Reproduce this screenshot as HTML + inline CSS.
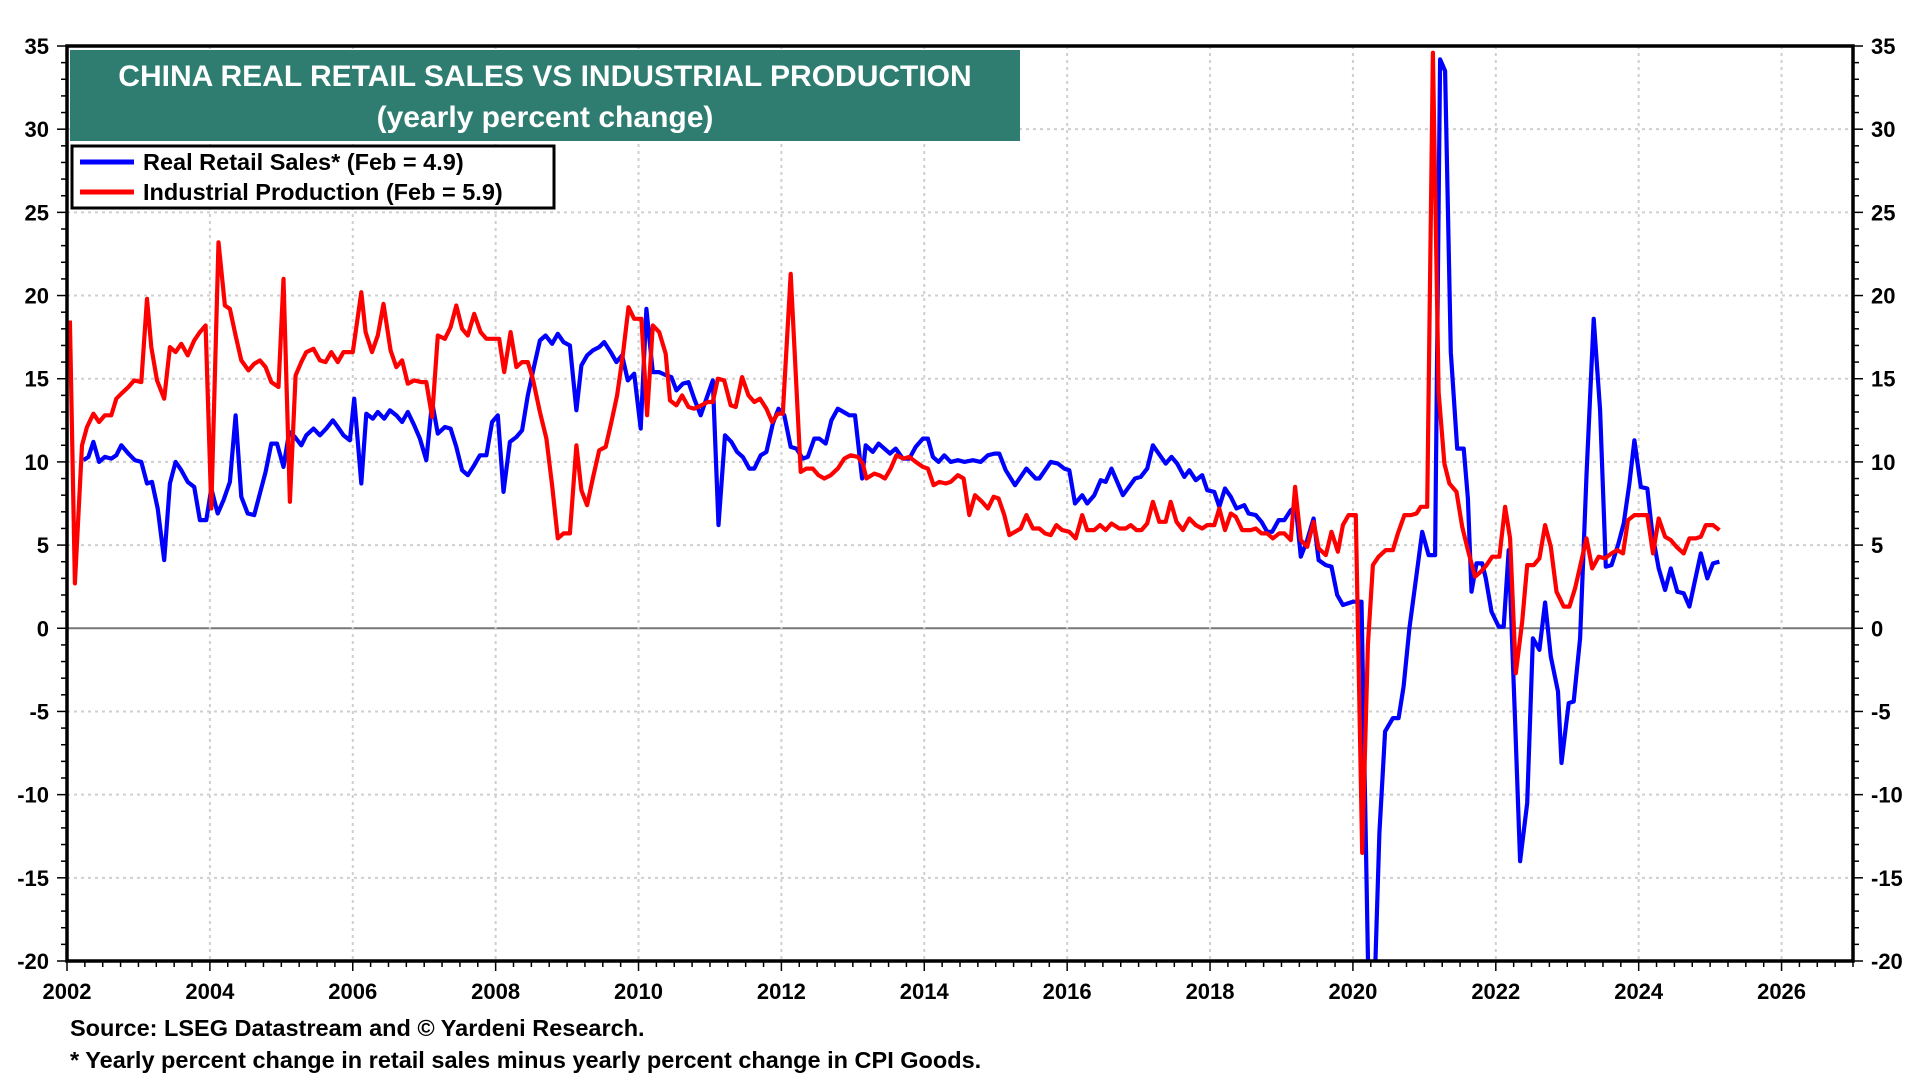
<!DOCTYPE html>
<html><head><meta charset="utf-8"><style>
html,body{margin:0;padding:0;background:#fff;}
svg{display:block;font-family:"Liberation Sans",Arial,sans-serif;font-weight:bold;}
</style></head><body>
<svg id="chart" width="1920" height="1080" viewBox="0 0 1920 1080" xmlns="http://www.w3.org/2000/svg">
<defs><clipPath id="plotclip"><rect x="67" y="46" width="1786" height="915"/></clipPath></defs>
<g id="grid"></g>
<g id="series" clip-path="url(#plotclip)"></g>
<g id="axes"></g>
<g>
<rect x="70" y="50" width="950" height="91" fill="#2e7d70"/>
<text x="545" y="86" text-anchor="middle" font-size="30" fill="#fff">CHINA REAL RETAIL SALES VS INDUSTRIAL PRODUCTION</text>
<text x="545" y="127" text-anchor="middle" font-size="30" fill="#fff">(yearly percent change)</text>
</g>
<g>
<rect x="72" y="146" width="482" height="62" fill="#fff" stroke="#000" stroke-width="3"/>
<line x1="80" y1="162" x2="134" y2="162" stroke="#0000ff" stroke-width="5"/>
<text x="143" y="170" font-size="23.5" fill="#000">Real Retail Sales* (Feb = 4.9)</text>
<line x1="80" y1="192" x2="134" y2="192" stroke="#ff0000" stroke-width="5"/>
<text x="143" y="200" font-size="23.5" fill="#000">Industrial Production (Feb = 5.9)</text>
</g>
<text x="70" y="1036" font-size="23.5" fill="#000">Source: LSEG Datastream and © Yardeni Research.</text>
<text x="70" y="1068" font-size="23.5" fill="#000">* Yearly percent change in retail sales minus yearly percent change in CPI Goods.</text>
</svg>
<script>
const yTicks = [35,30,25,20,15,10,5,0,-5,-10,-15,-20];
const xTicks = [2002,2004,2006,2008,2010,2012,2014,2016,2018,2020,2022,2024,2026];
const retailDates = [2002.23,2002.30,2002.37,2002.45,2002.53,2002.62,2002.69,2002.76,2002.86,2002.95,2003.04,2003.12,2003.19,2003.27,2003.36,2003.44,2003.52,2003.60,2003.69,2003.78,2003.86,2003.95,2004.02,2004.11,2004.19,2004.28,2004.36,2004.44,2004.53,2004.62,2004.70,2004.78,2004.86,2004.94,2005.03,2005.11,2005.19,2005.28,2005.35,2005.45,2005.54,2005.63,2005.72,2005.79,2005.87,2005.96,2006.02,2006.12,2006.19,2006.28,2006.35,2006.44,2006.52,2006.61,2006.69,2006.77,2006.86,2006.94,2007.03,2007.11,2007.19,2007.29,2007.37,2007.45,2007.53,2007.61,2007.70,2007.78,2007.87,2007.95,2008.03,2008.11,2008.20,2008.29,2008.37,2008.45,2008.52,2008.62,2008.70,2008.79,2008.87,2008.95,2009.04,2009.13,2009.20,2009.28,2009.36,2009.45,2009.52,2009.61,2009.69,2009.77,2009.85,2009.94,2010.03,2010.11,2010.20,2010.29,2010.39,2010.46,2010.53,2010.62,2010.70,2010.78,2010.87,2010.95,2011.04,2011.12,2011.21,2011.30,2011.38,2011.46,2011.55,2011.62,2011.71,2011.79,2011.88,2011.96,2012.04,2012.13,2012.21,2012.30,2012.37,2012.46,2012.53,2012.62,2012.70,2012.79,2012.87,2012.95,2013.03,2013.13,2013.18,2013.28,2013.36,2013.44,2013.52,2013.60,2013.70,2013.79,2013.88,2013.98,2014.05,2014.12,2014.20,2014.28,2014.37,2014.47,2014.56,2014.68,2014.79,2014.89,2014.98,2015.05,2015.14,2015.27,2015.43,2015.56,2015.61,2015.77,2015.87,2015.96,2016.03,2016.11,2016.21,2016.28,2016.38,2016.47,2016.54,2016.62,2016.78,2016.95,2017.03,2017.12,2017.20,2017.38,2017.46,2017.54,2017.64,2017.71,2017.80,2017.89,2017.96,2018.06,2018.13,2018.21,2018.29,2018.37,2018.48,2018.54,2018.64,2018.72,2018.80,2018.87,2018.96,2019.04,2019.13,2019.20,2019.27,2019.36,2019.45,2019.52,2019.62,2019.70,2019.78,2019.86,2020.00,2020.12,2020.22,2020.30,2020.37,2020.45,2020.56,2020.64,2020.71,2020.79,2020.89,2020.97,2021.06,2021.15,2021.22,2021.29,2021.37,2021.46,2021.55,2021.61,2021.66,2021.73,2021.81,2021.86,2021.94,2022.04,2022.11,2022.18,2022.27,2022.34,2022.44,2022.52,2022.61,2022.69,2022.77,2022.87,2022.92,2023.02,2023.09,2023.18,2023.27,2023.37,2023.46,2023.54,2023.62,2023.71,2023.79,2023.87,2023.94,2024.03,2024.12,2024.19,2024.28,2024.37,2024.45,2024.54,2024.63,2024.71,2024.79,2024.87,2024.96,2025.04,2025.13];
const retailValues = [10.1,10.3,11.2,10.0,10.3,10.2,10.4,11.0,10.5,10.1,10.0,8.7,8.8,7.2,4.1,8.7,10.0,9.5,8.8,8.5,6.5,6.5,8.4,6.9,7.7,8.8,12.8,7.9,6.9,6.8,8.1,9.4,11.1,11.1,9.7,11.8,11.5,11.0,11.6,12.0,11.6,12.0,12.5,12.1,11.6,11.3,13.8,8.7,12.9,12.6,13.0,12.6,13.1,12.8,12.4,13.0,12.2,11.4,10.1,13.6,11.7,12.1,12.0,10.9,9.5,9.2,9.8,10.4,10.4,12.4,12.8,8.2,11.2,11.5,11.9,14.0,15.4,17.3,17.6,17.1,17.7,17.2,17.0,13.1,15.8,16.4,16.7,16.9,17.2,16.6,16.0,16.4,14.9,15.3,12.0,19.2,15.4,15.4,15.2,15.1,14.3,14.7,14.8,13.8,12.8,13.8,14.9,6.2,11.6,11.2,10.6,10.3,9.6,9.6,10.4,10.6,12.3,13.2,12.8,10.9,10.8,10.2,10.3,11.4,11.4,11.1,12.5,13.2,13.0,12.8,12.8,9.0,11.0,10.6,11.1,10.8,10.5,10.8,10.2,10.2,10.9,11.4,11.4,10.3,10.0,10.4,10.0,10.1,10.0,10.1,10.0,10.4,10.5,10.5,9.5,8.6,9.6,9.0,9.0,10.0,9.9,9.6,9.5,7.5,8.0,7.5,8.0,8.9,8.8,9.6,8.0,9.0,9.1,9.6,11.0,9.9,10.3,9.9,9.1,9.5,8.9,9.2,8.3,8.2,7.3,8.4,7.9,7.2,7.4,6.9,6.8,6.4,5.8,5.8,6.5,6.5,7.1,7.3,4.3,5.3,6.6,4.1,3.8,3.7,2.0,1.4,1.6,1.6,-22,-22,-12.3,-6.2,-5.4,-5.4,-3.5,0.0,3.2,5.8,4.4,4.4,34.2,33.5,16.6,10.8,10.8,7.8,2.2,3.9,3.9,3.0,1.0,0.1,0.1,4.7,-5.6,-14.0,-10.5,-0.6,-1.3,1.55,-1.7,-3.8,-8.1,-4.5,-4.4,-0.6,9.2,18.6,13.1,3.7,3.8,5.0,6.3,8.7,11.3,8.5,8.4,5.7,3.6,2.3,3.6,2.2,2.1,1.3,2.9,4.5,3.0,3.9,4.0,4.9];
const ipDates = [2002.04,2002.11,2002.21,2002.28,2002.37,2002.45,2002.53,2002.62,2002.69,2002.76,2002.86,2002.94,2003.04,2003.12,2003.18,2003.26,2003.36,2003.44,2003.52,2003.60,2003.69,2003.78,2003.86,2003.94,2004.02,2004.12,2004.21,2004.28,2004.36,2004.44,2004.54,2004.62,2004.70,2004.78,2004.86,2004.96,2005.03,2005.12,2005.20,2005.28,2005.35,2005.45,2005.54,2005.62,2005.70,2005.79,2005.87,2006.00,2006.12,2006.18,2006.27,2006.35,2006.43,2006.53,2006.61,2006.69,2006.77,2006.86,2006.96,2007.03,2007.11,2007.19,2007.29,2007.37,2007.45,2007.53,2007.61,2007.70,2007.79,2007.87,2007.96,2008.05,2008.12,2008.21,2008.29,2008.37,2008.45,2008.52,2008.62,2008.71,2008.79,2008.87,2008.95,2009.04,2009.13,2009.20,2009.28,2009.36,2009.45,2009.54,2009.62,2009.70,2009.78,2009.86,2009.94,2010.04,2010.12,2010.20,2010.29,2010.38,2010.44,2010.53,2010.61,2010.70,2010.78,2010.88,2010.97,2011.04,2011.11,2011.20,2011.29,2011.36,2011.45,2011.54,2011.62,2011.70,2011.79,2011.87,2011.95,2012.02,2012.13,2012.27,2012.35,2012.44,2012.52,2012.60,2012.69,2012.79,2012.88,2012.97,2013.07,2013.14,2013.19,2013.30,2013.37,2013.45,2013.53,2013.61,2013.71,2013.79,2013.88,2013.98,2014.05,2014.13,2014.21,2014.30,2014.37,2014.47,2014.55,2014.63,2014.71,2014.81,2014.89,2014.97,2015.04,2015.12,2015.19,2015.27,2015.35,2015.43,2015.52,2015.61,2015.69,2015.77,2015.85,2015.93,2016.03,2016.12,2016.21,2016.28,2016.38,2016.46,2016.54,2016.62,2016.73,2016.82,2016.89,2016.97,2017.04,2017.12,2017.20,2017.29,2017.38,2017.45,2017.53,2017.62,2017.71,2017.80,2017.89,2017.96,2018.06,2018.13,2018.21,2018.29,2018.36,2018.45,2018.57,2018.64,2018.72,2018.80,2018.88,2018.97,2019.04,2019.13,2019.19,2019.27,2019.36,2019.45,2019.52,2019.62,2019.70,2019.79,2019.86,2019.94,2020.04,2020.13,2020.21,2020.28,2020.36,2020.46,2020.56,2020.63,2020.72,2020.81,2020.89,2020.95,2021.04,2021.12,2021.20,2021.28,2021.35,2021.45,2021.53,2021.61,2021.71,2021.79,2021.87,2021.95,2022.05,2022.13,2022.20,2022.28,2022.37,2022.44,2022.53,2022.61,2022.69,2022.77,2022.85,2022.95,2023.03,2023.11,2023.19,2023.27,2023.35,2023.44,2023.53,2023.62,2023.70,2023.78,2023.85,2023.94,2024.04,2024.12,2024.20,2024.28,2024.37,2024.45,2024.53,2024.63,2024.71,2024.80,2024.87,2024.94,2025.04,2025.13];
const ipValues = [18.5,2.7,11.0,12.1,12.9,12.4,12.8,12.8,13.8,14.1,14.5,14.9,14.8,19.8,16.9,14.9,13.8,16.9,16.6,17.1,16.4,17.3,17.8,18.2,7.2,23.2,19.4,19.2,17.6,16.1,15.5,15.9,16.1,15.7,14.8,14.5,21.0,7.6,15.2,16.0,16.6,16.8,16.1,16.0,16.6,16.0,16.6,16.6,20.2,17.8,16.6,17.6,19.5,16.7,15.7,16.1,14.7,14.9,14.8,14.8,12.7,17.6,17.4,18.1,19.4,18.0,17.6,18.9,17.8,17.4,17.4,17.4,15.4,17.8,15.7,16.0,16.0,15.0,13.0,11.4,8.6,5.4,5.7,5.7,11.0,8.3,7.4,9.0,10.7,10.9,12.4,14.0,16.4,19.3,18.6,18.6,12.8,18.2,17.8,16.5,13.7,13.4,14.0,13.3,13.2,13.4,13.6,13.6,15.0,14.9,13.4,13.3,15.1,14.0,13.6,13.8,13.2,12.4,12.9,12.9,21.3,9.4,9.6,9.6,9.2,9.0,9.2,9.6,10.2,10.4,10.3,9.9,9.0,9.3,9.2,9.0,9.6,10.4,10.2,10.3,10.0,9.7,9.6,8.6,8.8,8.7,8.8,9.2,9.0,6.8,8.0,7.6,7.2,7.9,7.8,6.8,5.6,5.8,6.0,6.8,6.0,6.0,5.7,5.6,6.2,5.9,5.8,5.4,6.8,5.9,5.9,6.2,5.9,6.3,6.0,6.0,6.2,5.9,5.9,6.3,7.6,6.4,6.4,7.6,6.4,5.9,6.6,6.2,6.0,6.2,6.2,7.2,5.9,6.9,6.7,5.9,5.9,6.0,5.7,5.7,5.4,5.7,5.7,5.3,8.5,5.3,4.9,6.4,4.8,4.4,5.8,4.6,6.2,6.8,6.8,-13.5,-1.0,3.8,4.3,4.7,4.7,5.7,6.8,6.8,6.9,7.3,7.3,34.6,14.2,9.9,8.7,8.2,6.1,4.7,3.1,3.4,3.8,4.3,4.3,7.3,5.4,-2.7,0.4,3.8,3.8,4.2,6.2,4.9,2.2,1.3,1.3,2.4,3.9,5.4,3.6,4.3,4.2,4.5,4.7,4.5,6.5,6.8,6.8,6.8,4.5,6.6,5.5,5.3,4.9,4.5,5.4,5.4,5.5,6.2,6.2,5.9];

const NS = 'http://www.w3.org/2000/svg';
const L = 67, R = 1853, T = 46, B = 961;
const X0 = 2002, X1 = 2027, Y0 = -20, Y1 = 35;
function xScale(v){ return L + (v - X0) / (X1 - X0) * (R - L); }
function yScale(v){ return B - (v - Y0) / (Y1 - Y0) * (B - T); }
function mk(tag, attrs, parent){ const e = document.createElementNS(NS, tag); for (const k in attrs) e.setAttribute(k, attrs[k]); parent.appendChild(e); return e; }

const grid = document.getElementById('grid');
const axes = document.getElementById('axes');
const series = document.getElementById('series');

yTicks.forEach(v => {
  const y = yScale(v);
  if (v !== Y0 && v !== Y1) {
    const gl = mk('line', {x1:L, x2:R, y1:y, y2:y, stroke: v === 0 ? '#777' : '#cfcfcf', 'stroke-width': 2, 'stroke-dasharray': v === 0 ? '' : '3,4'}, grid);
    
    
  }
  const tl = mk('text', {x: L - 18, y: y + 8, 'text-anchor':'end', 'font-size':22}, axes);
  tl.textContent = v;
  
  
  const tr = mk('text', {x: R + 18, y: y + 8, 'text-anchor':'start', 'font-size':22}, axes);
  tr.textContent = v;
  
  
});
for (let v = Y0; v <= Y1; v++) {
  const y = yScale(v);
  const len = v % 5 === 0 ? 10 : 6;
  const a = mk('line', {x1:L - len, x2:L, y1:y, y2:y, stroke:'#000', 'stroke-width':1.5}, axes);
  
  
  const b = mk('line', {x1:R, x2:R + len, y1:y, y2:y, stroke:'#000', 'stroke-width':1.5}, axes);
  
  
}
xTicks.forEach(v => {
  const x = xScale(v);
  if (v !== X0) {
    const gl = mk('line', {x1:x, x2:x, y1:T, y2:B, stroke:'#cfcfcf', 'stroke-width':2, 'stroke-dasharray':'3,4'}, grid);
    
    
  }
  const t = mk('text', {x:x, y:999, 'text-anchor':'middle', 'font-size':22}, axes);
  t.textContent = v;
  
  
});
for (let q = X0; q <= X1 + 0.001; q += 0.25) {
  const x = xScale(q);
  const major = Math.abs(q - Math.round(q)) < 0.01 && Math.round(q) % 2 === 0;
  const tk = mk('line', {x1:x, x2:x, y1:B, y2:B + (major ? 10 : 6), stroke:'#000', 'stroke-width':1.5}, axes);
  
  
}
const frame = mk('rect', {x:L, y:T, width:R - L, height:B - T, fill:'none', stroke:'#000', 'stroke-width':3.5}, axes);



function drawLine(dates, vals, color, name){
  const pts = dates.map((d, i) => xScale(d).toFixed(1) + ',' + yScale(vals[i]).toFixed(1)).join(' ');
  const p = mk('polyline', {points: pts, fill:'none', stroke: color, 'stroke-width':4.2, 'stroke-linejoin':'round'}, series);
  
  
}
drawLine(retailDates, retailValues, '#0000ff', 'retail-sales-line');
drawLine(ipDates, ipValues, '#ff0000', 'industrial-production-line');
</script>
</body></html>
